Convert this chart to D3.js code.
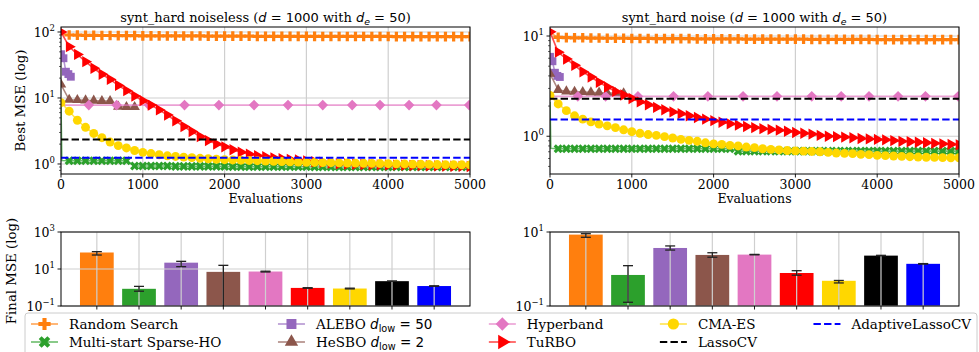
<!DOCTYPE html>
<html>
<head>
<meta charset="utf-8">
<script src="https://cdn.jsdelivr.net/npm/d3@7"></script>
<style>
  body { margin: 0; background: #fff; }
  svg { display: block; font-family: "DejaVu Serif", serif; }
  text { white-space: pre; }
</style>
</head>
<body>
<svg id="chart" width="979" height="352"></svg>
<script>
// ---- data ----
const methods = ["Random Search", "Multi-start Sparse-HO", "ALEBO", "HeSBO", "Hyperband",
                 "TuRBO", "CMA-ES", "LassoCV", "AdaptiveLassoCV"];
const colors = ["#ff7f0e", "#2ca02c", "#9467bd", "#8c564b", "#e377c2",
                "#ff0000", "#ffd700", "#000000", "#0000ff"];
const evalTicks = [0, 1000, 2000, 3000, 4000, 5000];
const evalGrid = d3.range(0, 5001, 100);          // curves logged every 100 evaluations
const sparseEvals = [0, 10].concat(evalGrid.slice(1));
const aleboEvals = [0, 30, 60, 90, 120];
const hesboEvals = [0, 100, 200, 300, 400, 500, 600, 700, 800, 900];
const hyperEvals = [20, 340, 680, 1075, 1510, 1930, 2360, 2775, 3200, 3560, 3900, 4255, 4590, 4990];

// noiseless
const nlRandom = [94, 90, 89.5, 89, 89, 88.5, 88.5, 88, 88, 88,
  87.5, 87.5, 87.5, 87, 87, 87, 87, 87, 86.5, 86.5,
  86.5, 86.5, 86.5, 86.5, 86, 86, 86, 86, 86, 86,
  86, 86, 85.5, 85.5, 85.5, 85.5, 85.5, 85.5, 85.5, 85.5,
  85.5, 85, 85, 85, 85, 85, 85, 85, 85, 85, 85];
const nlSparse = [8, 1.13,
  1.12, 1.12, 1.12, 1.12, 1.12, 1.12, 1.12, 1.12,
  0.93, 0.93, 0.93, 0.93, 0.93,
  0.92, 0.92, 0.92, 0.92, 0.92, 0.92, 0.92,
  0.91, 0.91, 0.91, 0.91, 0.91, 0.91, 0.91, 0.91, 0.91, 0.91,
  0.9, 0.9, 0.9, 0.9, 0.9, 0.9, 0.9, 0.9, 0.9, 0.9,
  0.9, 0.9, 0.9, 0.9, 0.9, 0.9, 0.9, 0.9, 0.9, 0.9];
const nlAlebo = [46, 40, 25, 23, 21];
const nlHesbo = [16, 9.4, 9.3, 9.2, 9.1, 9.0, 9.0, 7.4, 7.3, 7.3];
const nlHyper = [7.8, 7.8, 7.8, 7.8, 7.8, 7.8, 7.8, 7.8, 7.8, 7.8, 7.8, 7.8, 7.8, 7.8];
const nlTurbo = [100, 60, 45.7, 35.5, 28.2, 22.9, 19.1, 15.5, 12.9, 10.7,
  9.1, 7.8, 6.6, 5.5, 4.5, 3.7, 3.1, 2.6, 2.26, 2.0,
  1.82, 1.64, 1.51, 1.41, 1.33, 1.29, 1.24, 1.2, 1.17, 1.15,
  1.11, 1.08, 1.06, 1.035, 1.01, 1.0, 0.99, 0.98, 0.975, 0.97,
  0.965, 0.96, 0.955, 0.95, 0.945, 0.94, 0.935, 0.93, 0.925, 0.92, 0.915];
const nlCma = [8.5, 6.3, 4.6, 3.6, 2.9, 2.5, 2.15, 1.9, 1.75, 1.6,
  1.5, 1.44, 1.38, 1.33, 1.3, 1.27, 1.25, 1.22, 1.2, 1.18,
  1.16, 1.15, 1.14, 1.13, 1.12, 1.11, 1.1, 1.09, 1.08, 1.07,
  1.06, 1.055, 1.05, 1.045, 1.04, 1.035, 1.03, 1.025, 1.02, 1.015,
  1.01, 1.005, 1.0, 0.995, 0.99, 0.985, 0.98, 0.978, 0.975, 0.972, 0.97];
const nlLasso = 2.35;
const nlAdaptive = 1.24;

// noise
const nRandom = [10.8, 9.7, 9.65, 9.6, 9.6, 9.55, 9.55, 9.5, 9.5, 9.5,
  9.45, 9.45, 9.45, 9.4, 9.4, 9.4, 9.4, 9.4, 9.35, 9.35,
  9.35, 9.35, 9.35, 9.35, 9.3, 9.3, 9.3, 9.3, 9.3, 9.3,
  9.3, 9.3, 9.25, 9.25, 9.25, 9.25, 9.25, 9.25, 9.25, 9.25,
  9.2, 9.2, 9.2, 9.2, 9.2, 9.2, 9.2, 9.2, 9.2, 9.2, 9.2];
const nSparse = [2.2, 0.76,
  0.75, 0.75, 0.75, 0.75, 0.75, 0.75, 0.75, 0.75, 0.75, 0.75, 0.75,
  0.75, 0.75, 0.75, 0.75, 0.75, 0.75, 0.75, 0.75, 0.75, 0.75, 0.75,
  0.71, 0.71, 0.71, 0.71, 0.71, 0.71, 0.71, 0.71, 0.71, 0.71,
  0.71, 0.71, 0.71, 0.71, 0.71, 0.71, 0.71, 0.71, 0.71, 0.71,
  0.71, 0.71, 0.71, 0.71, 0.71, 0.71, 0.71, 0.71];
const nAlebo = [6.2, 5.6, 4.3, 4.0, 3.9];
const nHesbo = [4.2, 2.9, 2.8, 2.78, 2.76, 2.74, 2.72, 2.7, 2.7, 2.68];
const nHyper = [2.5, 2.5, 2.5, 2.5, 2.5, 2.5, 2.5, 2.5, 2.5, 2.5, 2.5, 2.5, 2.5, 2.5];
const nTurbo = [11, 6.9, 5.9, 5.1, 4.4, 3.9, 3.45, 3.1, 2.8, 2.58,
  2.38, 2.2, 2.06, 1.94, 1.84, 1.75, 1.68, 1.6, 1.54, 1.48,
  1.43, 1.38, 1.33, 1.29, 1.25, 1.22, 1.19, 1.17, 1.15, 1.12,
  1.09, 1.07, 1.05, 1.02, 1.0, 0.99, 0.98, 0.965, 0.95, 0.94,
  0.93, 0.92, 0.905, 0.89, 0.88, 0.87, 0.86, 0.85, 0.84, 0.83, 0.82];
const nCma = [2.55, 2.1, 1.8, 1.6, 1.48, 1.39, 1.32, 1.27, 1.22, 1.16,
  1.11, 1.07, 1.04, 1.02, 0.99, 0.96, 0.93, 0.91, 0.89, 0.86,
  0.84, 0.83, 0.81, 0.8, 0.78, 0.77, 0.75, 0.74, 0.73, 0.72,
  0.715, 0.71, 0.705, 0.7, 0.69, 0.68, 0.675, 0.67, 0.66, 0.655,
  0.645, 0.64, 0.635, 0.63, 0.625, 0.62, 0.617, 0.615, 0.612, 0.61, 0.61];
const nLasso = 2.36;
const nAdaptive = 1.47;

// final MSE bars (median, lower, upper)
const finalNl   = [78, 0.85, 22, 7.0, 7.3, 0.95, 0.88, 2.2, 1.2];
const finalNlLo = [57, 0.63, 13.4, 0.05, 6.9, 0.92, 0.84, 2.2, 1.17];
const finalNlHi = [87, 1.15, 26, 15.8, 7.6, 0.97, 0.92, 2.2, 1.23];
const finalN    = [8.5, 0.69, 3.7, 2.4, 2.45, 0.78, 0.48, 2.3, 1.38];
const finalNLo  = [7.2, 0.126, 3.25, 2.08, 2.42, 0.68, 0.42, 2.28, 1.36];
const finalNHi  = [9.0, 1.23, 4.2, 2.75, 2.48, 0.9, 0.49, 2.34, 1.4];

// ---- drawing ----
const svg = d3.select("#chart");
svg.append("rect").attr("width", 979).attr("height", 352).attr("fill", "#fff");
const defs = svg.append("defs");
const gridColor = "#cfcfcf";

const markers = {
  plus:     {type: d3.symbolCross, size: 52, rot: 0},
  x:        {type: d3.symbolCross, size: 52, rot: 45},
  square:   {type: d3.symbolSquare, size: 62, rot: 0},
  triUp:    {type: d3.symbolTriangle, size: 48, rot: 0},
  diamond:  {type: d3.symbolSquare, size: 56, rot: 45},
  triRight: {type: d3.symbolTriangle, size: 56, rot: 90},
  circle:   {type: d3.symbolCircle, size: 62, rot: 0}
};
const markerKinds = ["plus", "x", "square", "triUp", "diamond", "triRight", "circle"];

function rich(sel, parts) {
  let shift = 0;
  parts.forEach(p => {
    const t = sel.append("tspan").text(p.t);
    if (p.sans) t.attr("font-family", "DejaVu Sans");
    if (p.it) t.attr("font-style", "italic");
    const target = p.sub ? 3 : 0;
    if (target !== shift) { t.attr("dy", target - shift); shift = target; }
    if (p.sub) t.attr("font-size", "0.72em");
  });
}

function powLabel(sel, v) {
  const e = Math.round(Math.log10(v));
  sel.text("10");
  sel.append("tspan").attr("dy", -6).attr("font-size", 8.5).text(e < 0 ? "\u2212" + (-e) : String(e));
}

function yAxisLog(g, y, x0, majors, minor) {
  majors.forEach(v => {
    g.append("line").attr("x1", x0 - 3.5).attr("x2", x0).attr("y1", y(v)).attr("y2", y(v))
      .attr("stroke", "#000").attr("stroke-width", 0.9);
    g.append("text").attr("x", x0 - 6).attr("y", y(v) + 5).attr("text-anchor", "end")
      .attr("font-size", 12.5).call(powLabel, v);
  });
  if (minor) {
    y.ticks().filter(v => Math.abs(Math.log10(v) - Math.round(Math.log10(v))) > 1e-6).forEach(v => {
      g.append("line").attr("x1", x0 - 2).attr("x2", x0).attr("y1", y(v)).attr("y2", y(v))
        .attr("stroke", "#000").attr("stroke-width", 0.6);
    });
  }
}

const top0 = 27, bot0 = 174;
const linePanels = [
  {x0: 61, x1: 470, yDom: [0.705, 119], majors: [1, 10, 100], label: "noiseless",
   series: [[evalGrid, nlRandom, 1], [sparseEvals, nlSparse, 2], [aleboEvals, nlAlebo, 0],
            [hesboEvals, nlHesbo, 0], [hyperEvals, nlHyper, 1], [evalGrid, nlTurbo, 0],
            [evalGrid, nlCma, 0]],
   lasso: nlLasso, adaptive: nlAdaptive},
  {x0: 550, x1: 959, yDom: [0.42, 12.3], majors: [1, 10], label: "noise",
   series: [[evalGrid, nRandom, 1], [sparseEvals, nSparse, 2], [aleboEvals, nAlebo, 0],
            [hesboEvals, nHesbo, 0], [hyperEvals, nHyper, 1], [evalGrid, nTurbo, 0],
            [evalGrid, nCma, 0]],
   lasso: nLasso, adaptive: nAdaptive}
];

linePanels.forEach((p, pi) => {
  const x = d3.scaleLinear().domain([0, 5000]).range([p.x0, p.x1]);
  const y = d3.scaleLog().domain(p.yDom).range([bot0, top0]);
  const g = svg.append("g");
  const clipId = "clipL" + pi;
  defs.append("clipPath").attr("id", clipId).append("rect")
    .attr("x", p.x0).attr("y", top0).attr("width", p.x1 - p.x0).attr("height", bot0 - top0);

  // grid
  evalTicks.forEach(t => g.append("line").attr("x1", x(t)).attr("x2", x(t)).attr("y1", top0).attr("y2", bot0)
    .attr("stroke", gridColor).attr("stroke-width", 1.2));
  p.majors.forEach(v => g.append("line").attr("x1", p.x0).attr("x2", p.x1).attr("y1", y(v)).attr("y2", y(v))
    .attr("stroke", gridColor).attr("stroke-width", 1.2));

  const plot = g.append("g").attr("clip-path", `url(#${clipId})`);
  const line = d3.line().x(d => x(d[0])).y(d => y(d[1]));
  p.series.forEach((s, si) => {
    const pts = s[0].map((e, i) => [e, s[1][i]]);
    plot.append("path").attr("d", line(pts)).attr("fill", "none")
      .attr("stroke", colors[si]).attr("stroke-width", 1.6).attr("stroke-opacity", 0.7);
    const m = markers[markerKinds[si]];
    const sym = d3.symbol().type(m.type).size(m.size);
    plot.selectAll(null).data(pts.slice(s[2])).join("path")
      .attr("d", sym)
      .attr("transform", d => `translate(${x(d[0])},${y(d[1])}) rotate(${m.rot})`)
      .attr("fill", colors[si]);
  });
  [[p.lasso, colors[7]], [p.adaptive, colors[8]]].forEach(([v, c]) => {
    plot.append("line").attr("x1", x(0)).attr("x2", x(5000)).attr("y1", y(v)).attr("y2", y(v))
      .attr("stroke", c).attr("stroke-width", 2).attr("stroke-dasharray", "7.4,3.2");
  });

  // frame and ticks
  g.append("rect").attr("x", p.x0).attr("y", top0).attr("width", p.x1 - p.x0).attr("height", bot0 - top0)
    .attr("fill", "none").attr("stroke", "#000").attr("stroke-width", 1);
  evalTicks.forEach(t => {
    g.append("line").attr("x1", x(t)).attr("x2", x(t)).attr("y1", bot0).attr("y2", bot0 + 3.5)
      .attr("stroke", "#000").attr("stroke-width", 0.9);
    g.append("text").attr("x", x(t)).attr("y", bot0 + 15).attr("text-anchor", "middle")
      .attr("font-size", 12.5).text(t);
  });
  yAxisLog(g, y, p.x0, p.majors, true);

  g.append("text").attr("x", (p.x0 + p.x1) / 2).attr("y", bot0 + 29).attr("text-anchor", "middle")
    .attr("font-size", 12.5).text("Evaluations");
  g.append("text").attr("x", (p.x0 + p.x1) / 2).attr("y", 22).attr("text-anchor", "middle")
    .attr("font-size", 13)
    .call(rich, [{t: "synt_hard " + p.label + " ("}, {t: "d", it: 1, sans: 1}, {t: " = 1000", sans: 1},
                 {t: " with "}, {t: "d", it: 1, sans: 1}, {t: "e", it: 1, sans: 1, sub: 1},
                 {t: " = 50", sans: 1}, {t: ")"}]);
});

svg.append("text").attr("transform", `translate(25,${(top0 + bot0) / 2}) rotate(-90)`)
  .attr("text-anchor", "middle").attr("font-size", 13.3).text("Best MSE (log)");

// ---- final MSE bars ----
const top1 = 232, bot1 = 306;
const barPanels = [
  {x0: 61, x1: 470, yDom: [0.1, 1000], majors: [0.1, 10, 1000], vals: finalNl, lo: finalNlLo, hi: finalNlHi},
  {x0: 550, x1: 959, yDom: [0.1, 10], majors: [0.1, 10], vals: finalN, lo: finalNLo, hi: finalNHi}
];
barPanels.forEach((p, pi) => {
  const x = d3.scaleLinear().domain([-0.85, 8.85]).range([p.x0, p.x1]);
  const y = d3.scaleLog().domain(p.yDom).range([bot1, top1]).clamp(true);
  const bw = x(0.8) - x(0);
  const g = svg.append("g");
  const idx = d3.range(p.vals.length);

  g.selectAll(null).data(idx).join("rect")
    .attr("x", i => x(i) - bw / 2).attr("width", bw)
    .attr("y", i => y(p.vals[i])).attr("height", i => bot1 - y(p.vals[i]))
    .attr("fill", i => colors[i]);
  idx.forEach(i => g.append("line").attr("x1", x(i)).attr("x2", x(i)).attr("y1", top1).attr("y2", bot1)
    .attr("stroke", gridColor).attr("stroke-width", 1.2));
  p.majors.forEach(v => g.append("line").attr("x1", p.x0).attr("x2", p.x1).attr("y1", y(v)).attr("y2", y(v))
    .attr("stroke", gridColor).attr("stroke-width", 1.2));

  // error bars
  idx.forEach(i => {
    const ylo = y(p.lo[i]), yhi = y(p.hi[i]);
    g.append("line").attr("x1", x(i)).attr("x2", x(i)).attr("y1", ylo).attr("y2", yhi)
      .attr("stroke", "#222").attr("stroke-width", 1.3);
    [p.lo[i], p.hi[i]].forEach(v => {
      if (v < p.yDom[0]) return;
      g.append("line").attr("x1", x(i) - 5).attr("x2", x(i) + 5).attr("y1", y(v)).attr("y2", y(v))
        .attr("stroke", "#222").attr("stroke-width", 1.3);
    });
    g.append("line").attr("x1", x(i)).attr("x2", x(i)).attr("y1", bot1).attr("y2", bot1 + 3.5)
      .attr("stroke", "#000").attr("stroke-width", 0.9);
  });

  g.append("rect").attr("x", p.x0).attr("y", top1).attr("width", p.x1 - p.x0).attr("height", bot1 - top1)
    .attr("fill", "none").attr("stroke", "#000").attr("stroke-width", 1);
  yAxisLog(g, y, p.x0, p.majors, false);
});

svg.append("text").attr("transform", `translate(16,${(top1 + bot1) / 2 + 2}) rotate(-90)`)
  .attr("text-anchor", "middle").attr("font-size", 13.3).text("Final MSE (log)");

// ---- legend: column-major, 5 columns expanded across the figure ----
const legendLabels = [
  [{t: "Random Search"}],
  [{t: "Multi-start Sparse-HO"}],
  [{t: "ALEBO "}, {t: "d", it: 1, sans: 1}, {t: "low", sans: 1, sub: 1}, {t: " = 50", sans: 1}],
  [{t: "HeSBO "}, {t: "d", it: 1, sans: 1}, {t: "low", sans: 1, sub: 1}, {t: " = 2", sans: 1}],
  [{t: "Hyperband"}],
  [{t: "TuRBO"}],
  [{t: "CMA-ES"}],
  [{t: "LassoCV"}],
  [{t: "AdaptiveLassoCV"}]
];
const lgFont = 13.5, handleLen = 27, textPad = 11;
const boxX0 = 25, boxX1 = 977, innerX0 = 31, innerX1 = 971;
const legendRows = [324, 342];
const lg = svg.append("g");
const box = lg.append("rect").attr("x", boxX0).attr("y", 313).attr("width", boxX1 - boxX0).attr("height", 50)
  .attr("rx", 3).attr("fill", "#fff").attr("fill-opacity", 0.85)
  .attr("stroke", "#cccccc").attr("stroke-width", 1);
const texts = legendLabels.map(lab => lg.append("text").attr("font-size", lgFont).call(rich, lab));
const nCols = 5;
const colW = d3.range(nCols).map(c => {
  const w = [2 * c, 2 * c + 1].filter(i => i < texts.length)
    .map(i => texts[i].node().getComputedTextLength());
  return handleLen + textPad + d3.max(w);
});
const gap = (innerX1 - innerX0 - d3.sum(colW)) / (nCols - 1);
let colX = innerX0;
for (let c = 0; c < nCols; c++) {
  [2 * c, 2 * c + 1].filter(i => i < texts.length).forEach(i => {
    const hx = colX, hy = legendRows[i % 2];
    const dashed = i >= 7;
    lg.append("line").attr("x1", hx).attr("x2", hx + handleLen).attr("y1", hy).attr("y2", hy)
      .attr("stroke", colors[i]).attr("stroke-width", dashed ? 2 : 1.6)
      .attr("stroke-opacity", dashed ? 1 : 0.7)
      .attr("stroke-dasharray", dashed ? "7.4,3.2" : null);
    if (!dashed) {
      const m = markers[markerKinds[i]];
      lg.append("path").attr("d", d3.symbol().type(m.type).size(m.size * 1.6))
        .attr("transform", `translate(${hx + handleLen / 2},${hy}) rotate(${m.rot})`).attr("fill", colors[i]);
    }
    texts[i].attr("x", hx + handleLen + textPad).attr("y", hy + 4.7).raise();
  });
  colX += colW[c] + gap;
}
</script>
</body>
</html>
